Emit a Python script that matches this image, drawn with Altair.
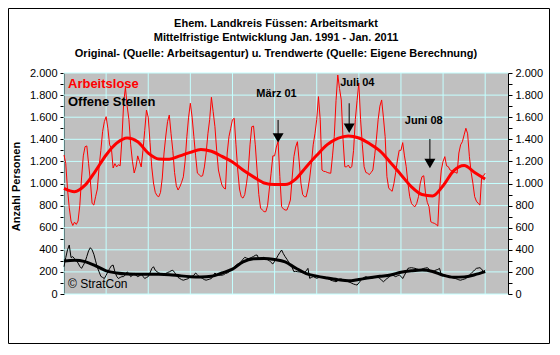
import altair as alt
import pandas as pd

FONT = "Liberation Sans"

# ---------------- data ----------------
title_lines = [
    "Ehem. Landkreis Füssen: Arbeitsmarkt",
    "Mittelfristige Entwicklung Jan. 1991 - Jan. 2011",
    "Original- (Quelle: Arbeitsagentur) u. Trendwerte (Quelle: Eigene Berechnung)",
]
tick_months = list(range(0, 241, 24))          # Jan 91 ... Jan 11 (month index)
tick_years = ["91", "93", "95", "97", "99", "01", "03", "05", "07", "09", "11"]
y_ticks = list(range(0, 2001, 100))
y_grid = list(range(0, 2001, 200))

# monthly values Jan 1991 .. Jan 2011
arbeitslose = [
    1258, 1180, 950, 780, 660, 620, 650, 630, 660, 800, 1050, 1250,      # 1991
    1333, 1340, 1180, 1030, 820, 805, 880, 950, 1150, 1300, 1470, 1560,  # 1992
    1605, 1500, 1350, 1320, 1140, 1180, 1150, 1170, 1160, 1400, 1730, 1870,  # 1993
    1700, 1578, 1350, 1200, 1095, 1150, 1250, 1200, 1150, 1300, 1480, 1665,  # 1994
    1600, 1373, 1150, 1004, 920, 890, 880, 920, 1050, 1276, 1430, 1560,  # 1995
    1620, 1450, 1300, 1100, 980, 941, 970, 1010, 1060, 1200, 1424, 1600,  # 1996
    1726, 1600, 1424, 1250, 1094, 1080, 1065, 1070, 1150, 1276, 1450, 1578,  # 1997
    1780, 1650, 1514, 1300, 1122, 1050, 986, 960, 950, 1276, 1424, 1500,  # 1998
    1578, 1590, 1350, 1122, 950, 880, 868, 900, 1000, 1122, 1350, 1514,  # 1999
    1520, 1350, 1122, 900, 778, 760, 745, 745, 800, 950, 1093, 1250,     # 2000
    1250, 1330, 1380, 1062, 790, 770, 760, 760, 800, 850, 1050, 1243,    # 2001
    1330, 1378, 1200, 1003, 900, 880, 880, 950, 1050, 1186, 1350, 1450,  # 2002
    1578, 1786, 1578, 1122, 1110, 1108, 1100, 1095, 1093, 1250, 1424, 1750,  # 2003
    1982, 1860, 1756, 1400, 1152, 1150, 1167, 1140, 1152, 1300, 1578, 1750,  # 2004
    1910, 1578, 1350, 1152, 1100, 1093, 1080, 1100, 1122, 1250, 1400, 1578,  # 2005
    1700, 1756, 1600, 1424, 1062, 960, 941, 930, 1000, 1100, 1212, 1300,  # 2006
    1300, 1370, 1250, 1152, 1000, 881, 820, 800, 790, 820, 881, 1003,    # 2007
    1062, 1070, 911, 830, 790, 654, 645, 640, 630, 615, 941, 1122,       # 2008
    1200, 1243, 1160, 1152, 1122, 1115, 1108, 1100, 1093, 1276, 1350, 1378,  # 2009
    1440, 1500, 1450, 1243, 1100, 1003, 881, 840, 820, 805, 1062, 1070,  # 2010
    1093,                                                                 # Jan 2011
]
offene_stellen = [
    247, 330, 400, 443, 330, 338, 320, 305, 280, 250, 232, 260,   # 1991
    290, 340, 390, 419, 400, 360, 300, 240, 200, 160, 150, 140,   # 1992
    170, 200, 230, 255, 262, 202, 160, 140, 150, 157, 157, 175,   # 1993
    200, 185, 157, 170, 185, 170, 157, 165, 178, 160, 140, 150,   # 1994
    157, 190, 230, 247, 215, 202, 190, 185, 180, 178, 185, 195,   # 1995
    200, 210, 215, 195, 170, 150, 140, 130, 125, 130, 135, 140,   # 1996
    157, 160, 170, 190, 175, 157, 150, 140, 130, 125, 130, 135,   # 1997
    140, 165, 190, 175, 170, 170, 170, 175, 185, 190, 200, 215,   # 1998
    232, 245, 260, 272, 277, 295, 315, 332, 325, 320, 325, 332,   # 1999
    340, 350, 353, 320, 325, 330, 332, 320, 310, 302, 285, 272,   # 2000
    295, 320, 350, 375, 398, 365, 338, 315, 290, 260, 240, 202,   # 2001
    205, 202, 200, 197, 193, 190, 210, 232, 142, 150, 157, 150,   # 2002
    142, 148, 155, 157, 150, 145, 140, 135, 125, 120, 115, 111,   # 2003
    120, 135, 135, 128, 125, 118, 111, 105, 97, 90, 85, 81,       # 2004
    100, 120, 140, 150, 157, 150, 145, 140, 147, 152, 157, 150,   # 2005
    140, 125, 111, 125, 140, 150, 165, 172, 165, 157, 165, 172,   # 2006
    160, 140, 170, 200, 232, 236, 238, 235, 232, 227, 222, 217,   # 2007
    225, 232, 235, 238, 225, 202, 205, 210, 217, 222, 232, 172,   # 2008
    172, 172, 165, 160, 157, 150, 145, 140, 135, 128, 125, 130,   # 2009
    135, 140, 155, 172, 185, 202, 218, 232, 235, 238, 225, 202,   # 2010
    215,                                                          # Jan 2011
]
# trend values every 6 months (Jan / Jul)
trend_months = list(range(0, 241, 6))
trend_arbeitslose = [956, 926, 985, 1115, 1258, 1365, 1412, 1378, 1275, 1222, 1220,
                     1250, 1282, 1308, 1292, 1245, 1195, 1122, 1060, 1005, 990, 990,
                     1040, 1150, 1255, 1352, 1408, 1430, 1412, 1362, 1295, 1190, 1080,
                     970, 900, 887, 980, 1115, 1162, 1100, 1040]
trend_offene = [298, 306, 293, 255, 210, 190, 181, 179, 178, 178, 175, 165, 157, 154,
                160, 190, 225, 290, 318, 322, 312, 290, 235, 185, 162, 145, 130, 119,
                131, 147, 160, 172, 197, 210, 217, 204, 170, 152, 155, 174, 202]

ann_labels = ["März 01", "Juli 04", "Juni 08"]
ann_arrow_month = [122, 162.5, 208.5]
ann_arrow_top = [1575, 1726, 1403]
ann_arrow_head = [1413, 1500, 1181]
ann_label_month = [121.1, 167.1, 205]
ann_label_value = [1810, 1907, 1566]

# ---------------- frames ----------------
months = list(range(len(arbeitslose)))
df_al = pd.DataFrame({"m": months, "v": arbeitslose})
df_os = pd.DataFrame({"m": months, "v": offene_stellen})
df_tal = pd.DataFrame({"m": trend_months, "v": trend_arbeitslose})
df_tos = pd.DataFrame({"m": trend_months, "v": trend_offene})
df_gx = pd.DataFrame({"m": tick_months})
df_gy = pd.DataFrame({"v": y_grid})
df_ann = pd.DataFrame({"m": ann_arrow_month, "top": ann_arrow_top, "head": ann_arrow_head,
                       "lm": ann_label_month, "lv": ann_label_value, "t": ann_labels})

X_SCALE = alt.Scale(domain=[0, 253], nice=False, zero=False)
Y_SCALE = alt.Scale(domain=[0, 2000], nice=False, zero=True)

x_label_expr = "[" + ",".join(f"['Jan','{y}']" for y in tick_years) + "][round(datum.value/24)]"
x_axis = alt.Axis(values=tick_months, labelExpr=x_label_expr, tickSize=5, labelPadding=7,
                  labelLineHeight=15, labelFont=FONT, labelFontSize=11, labelColor="black",
                  tickColor="black", domainColor="black", grid=False, labelFlush=False,
                  labelOverlap=False, title="Jahr", titleFont=FONT, titleFontSize=11,
                  titleFontWeight="bold", titleColor="black", titleX=211, titleY=47,
                  titleBaseline="middle", titleAlign="center")

y_label_expr = "datum.value % 200 == 0 ? replace(format(datum.value, ','), ',', '.') : ''"


def y_axis(orient, with_title):
    kw = dict(orient=orient, values=y_ticks, labelExpr=y_label_expr, tickSize=4,
              labelPadding=3, labelFont=FONT, labelFontSize=11, labelColor="black",
              tickColor="black", domainColor="black", grid=False, labelFlush=False,
              labelOverlap=False)
    if with_title:
        kw.update(title="Anzahl Personen", titleFont=FONT, titleFontSize=11,
                  titleFontWeight="bold", titleColor="black", titleAngle=-90,
                  titleX=-48, titleY=113, titleAlign="center", titleBaseline="middle")
    else:
        kw.update(title=None)
    return alt.Axis(**kw)


def X(field, axis=None):
    return alt.X(f"{field}:Q", scale=X_SCALE, axis=axis)


def Y(field, axis=None):
    return alt.Y(f"{field}:Q", scale=Y_SCALE, axis=axis)


GRID = "#C4FFFF"
grid_h = alt.Chart(df_gy).mark_rule(color=GRID, strokeWidth=1).encode(y=Y("v"))
grid_v = alt.Chart(df_gx).mark_rule(color=GRID, strokeWidth=1).encode(x=X("m", x_axis))

line_al = alt.Chart(df_al).mark_line(color="#FF0000", strokeWidth=1).encode(
    x=X("m"), y=Y("v", y_axis("left", True)))
line_os = alt.Chart(df_os).mark_line(color="black", strokeWidth=1).encode(
    x=X("m"), y=Y("v", y_axis("right", False)))
trend_al = alt.Chart(df_tal).mark_line(color="#FF0000", strokeWidth=3,
                                       interpolate="monotone").encode(x=X("m"), y=Y("v"))
trend_os = alt.Chart(df_tos).mark_line(color="black", strokeWidth=3,
                                       interpolate="monotone").encode(x=X("m"), y=Y("v"))

arrow_rule = alt.Chart(df_ann).mark_rule(color="black", strokeWidth=1).encode(
    x=X("m"), y=Y("top"), y2="head:Q")
arrow_head = alt.Chart(df_ann).mark_point(
    shape="M-1,-0.85L1,-0.85L0,0.85Z", size=121, filled=True, color="black",
    opacity=1, strokeWidth=0).encode(x=X("m"), y=Y("head"))
ann_text = alt.Chart(df_ann).mark_text(font=FONT, fontSize=11, fontWeight="bold",
                                       color="black", align="center",
                                       baseline="middle").encode(
    x=X("lm"), y=Y("lv"), text="t:N")

legend_al = alt.Chart(pd.DataFrame({"t": ["Arbeitslose"]})).mark_text(
    font=FONT, fontSize=13, fontWeight="bold", color="#FF0000", align="left",
    baseline="middle").encode(x=alt.value(4), y=alt.value(11), text="t:N")
legend_os = alt.Chart(pd.DataFrame({"t": ["Offene Stellen"]})).mark_text(
    font=FONT, fontSize=13, fontWeight="bold", color="black", align="left",
    baseline="middle").encode(x=alt.value(4), y=alt.value(28.5), text="t:N")
credit = alt.Chart(pd.DataFrame({"t": ["© StratCon"]})).mark_text(
    font=FONT, fontSize=12, color="black", align="left",
    baseline="middle").encode(x=alt.value(4), y=alt.value(211), text="t:N")

title_layers = []
for line, yy in zip(title_lines, [-49, -35, -19.5]):
    title_layers.append(
        alt.Chart(pd.DataFrame({"t": [line]})).mark_text(
            font=FONT, fontSize=11, fontWeight="bold", color="black", align="center",
            baseline="middle").encode(x=alt.value(212), y=alt.value(yy), text="t:N"))

frame = alt.Chart(pd.DataFrame({"a": [0]})).mark_rect(
    fillOpacity=0, stroke="black", strokeWidth=1).encode(
    x=alt.value(-55.5), x2=alt.value(485.5), y=alt.value(-64.5), y2=alt.value(270.5))

chart = alt.layer(
    grid_h, grid_v, line_os, line_al, trend_os, trend_al,
    arrow_rule, arrow_head, ann_text, legend_al, legend_os, credit,
    *title_layers, frame,
).resolve_scale(y="independent").properties(
    width=444, height=221,
    autosize=alt.AutoSizeParams(type="none"),
    padding={"left": 56, "top": 65, "right": 42, "bottom": 50},
    background="white",
).configure_view(fill="#C0C0C0", strokeWidth=0)

chart.save("out.html", embed_options={"renderer": "svg", "actions": False})
